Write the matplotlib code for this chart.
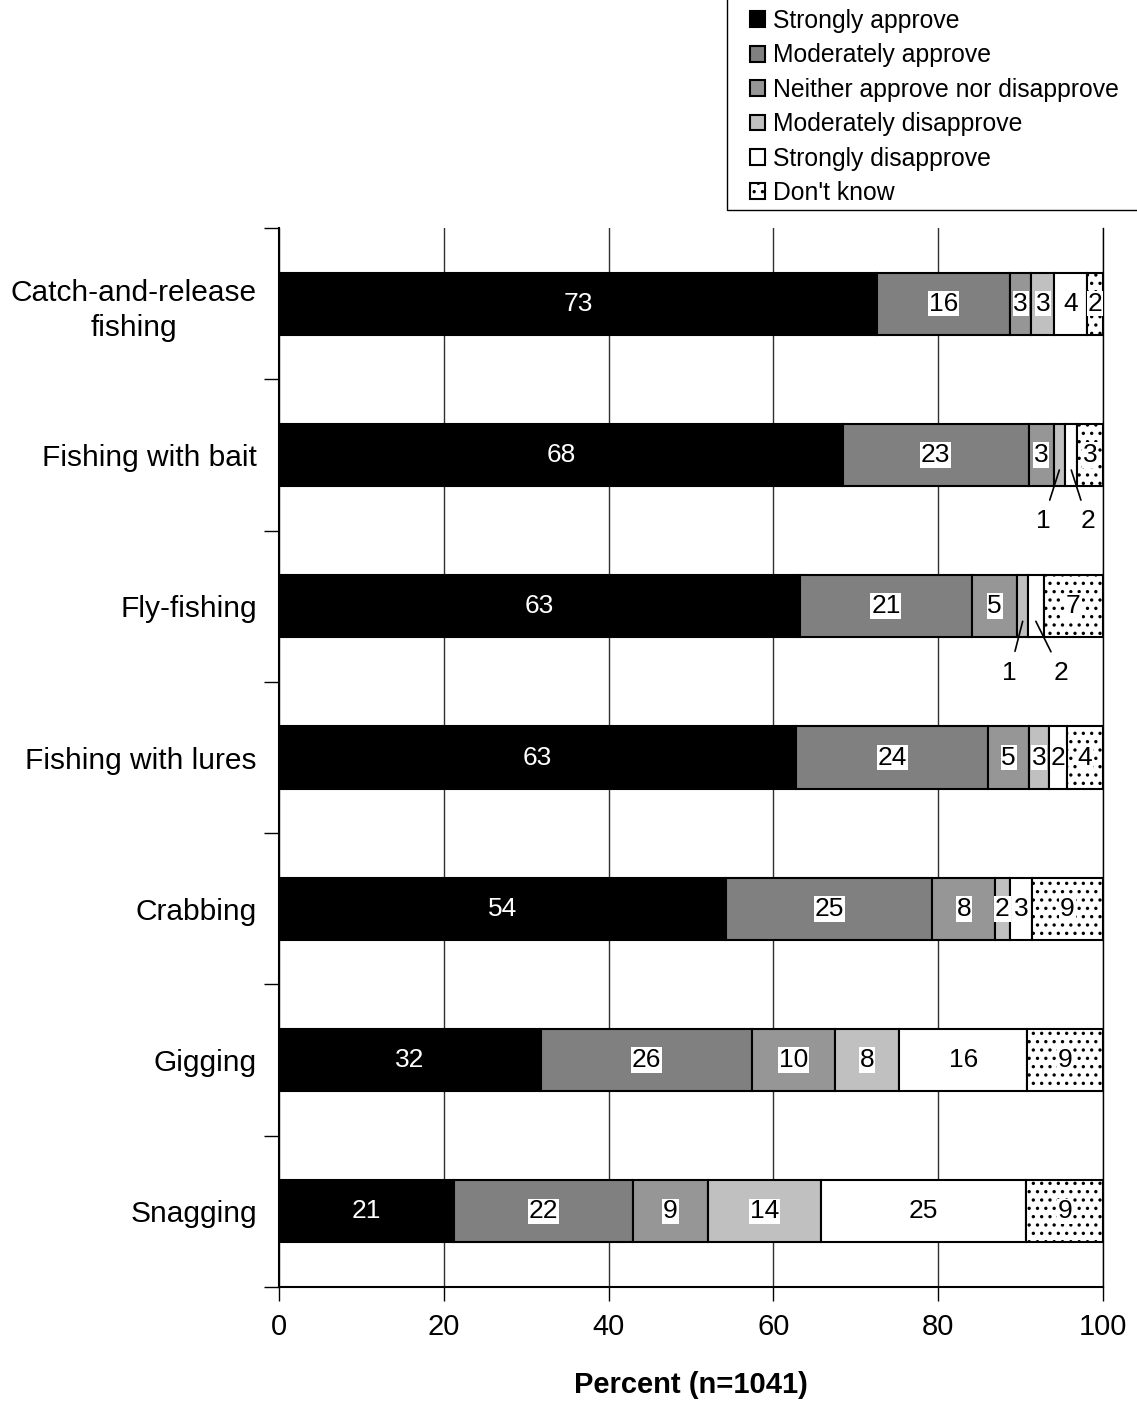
import matplotlib
matplotlib.use("Agg")
import matplotlib.pyplot as plt
from matplotlib.patches import Rectangle
import numpy as np

plt.rcParams['font.family'] = ['Liberation Sans', 'DejaVu Sans']
plt.rcParams['hatch.linewidth'] = 1.2

# data
activities = ['Catch-and-release\nfishing', 'Fishing with bait', 'Fly-fishing',
              'Fishing with lures', 'Crabbing', 'Gigging', 'Snagging']
responses = ['Strongly approve', 'Moderately approve', 'Neither approve nor disapprove',
             'Moderately disapprove', 'Strongly disapprove', "Don't know"]

strongly_approve = [72.6, 68.4, 63.2, 62.7, 54.2, 31.8, 21.2]
moderately_approve = [16.1, 22.6, 20.9, 23.4, 25.1, 25.6, 21.7]
neither = [2.6, 3.0, 5.5, 4.9, 7.6, 10.1, 9.2]
moderately_disapprove = [2.8, 1.4, 1.3, 2.5, 1.8, 7.8, 13.7]
strongly_disapprove = [4.0, 1.5, 1.9, 2.1, 2.7, 15.5, 24.9]
dont_know = [1.9, 3.1, 7.2, 4.4, 8.6, 9.2, 9.3]

labels_sa = [73, 68, 63, 63, 54, 32, 21]
labels_ma = [16, 23, 21, 24, 25, 26, 22]
labels_ne = [3, 3, 5, 5, 8, 10, 9]
labels_md = [3, 1, 1, 3, 2, 8, 14]
labels_sd = [4, 2, 2, 2, 3, 16, 25]
labels_dk = [2, 3, 7, 4, 9, 9, 9]

series = [strongly_approve, moderately_approve, neither,
          moderately_disapprove, strongly_disapprove, dont_know]
series_labels = [labels_sa, labels_ma, labels_ne, labels_md, labels_sd, labels_dk]

colors = ['#000000', '#808080', '#969696', '#c0c0c0', '#ffffff', '#ffffff']
hatches = [None, None, None, None, None, '..']

# segments labelled below the bar with a leader line: (row, series) -> x offset
leaders = {(1, 3): -2.0, (1, 4): 2.0, (2, 3): -1.6, (2, 4): 3.1}

fig = plt.figure(figsize=(11.37, 14.02), dpi=100)
ax = fig.add_axes([0.2454, 0.0820, 0.7247, 0.7554])

y = np.arange(len(activities))
left = np.zeros(len(activities))
handles = []
for k, (vals, labs) in enumerate(zip(series, series_labels)):
    vals = np.array(vals)
    bars = ax.barh(y, vals, left=left, height=0.41, color=colors[k],
                   edgecolor='black', linewidth=1.5, hatch=hatches[k],
                   label=responses[k], zorder=3)
    handles.append(bars)
    for i in range(len(y)):
        cx = left[i] + vals[i] / 2
        if (i, k) in leaders:
            tx = cx + leaders[(i, k)]
            ax.annotate(str(labs[i]), xy=(cx, y[i] + 0.1), xytext=(tx, y[i] + 0.44),
                        ha='center', va='center', fontsize=19,
                        arrowprops=dict(arrowstyle='-', color='black', lw=1.2,
                                        shrinkA=5, shrinkB=0), zorder=5)
        elif k == 0:
            ax.text(cx, y[i], str(labs[i]), ha='center', va='center',
                    fontsize=19, color='white', zorder=5)
        else:
            ax.text(cx, y[i], str(labs[i]), ha='center', va='center', fontsize=19,
                    color='black', zorder=5,
                    bbox=dict(facecolor='white', edgecolor='none', pad=0.5))
    left += vals

ax.set_xlim(0, 100)
ax.set_ylim(len(activities) - 0.5, -0.5)
ax.set_xticks([0, 20, 40, 60, 80, 100])
ax.tick_params(axis='x', labelsize=21, length=10, width=1, pad=9)
ax.set_yticks(y)
ax.set_yticklabels(activities, fontsize=21.5, multialignment='center', linespacing=1.35)
ax.tick_params(axis='y', which='major', length=0, pad=16)
ax.set_yticks(np.arange(len(activities) + 1) - 0.5, minor=True)
ax.tick_params(axis='y', which='minor', length=11, width=1)
ax.xaxis.grid(True, color='#303030', linewidth=1, zorder=0)
ax.set_axisbelow(True)
ax.spines['top'].set_visible(False)
ax.spines['right'].set_linewidth(1)
ax.spines['left'].set_linewidth(1.5)
ax.spines['bottom'].set_linewidth(1.5)
ax.set_xlabel('Percent (n=1041)', fontsize=21, fontweight='bold', labelpad=21)

# legend box: frame drawn separately, it runs off the right edge
fig.patches.append(Rectangle((727 / 1137, 1 - 210 / 1402), 420 / 1137, 212 / 1402,
                             transform=fig.transFigure, facecolor='white',
                             edgecolor='black', linewidth=1, zorder=0))
leg = fig.legend(handles=handles, loc='upper left', bbox_to_anchor=(750 / 1137, 1 - 9 / 1402),
                 fontsize=17.8, frameon=False, borderaxespad=0, borderpad=0,
                 handlelength=0.6, handleheight=0.6, handletextpad=0.35,
                 labelspacing=0.42)

fig.savefig('out.png', dpi=100)
